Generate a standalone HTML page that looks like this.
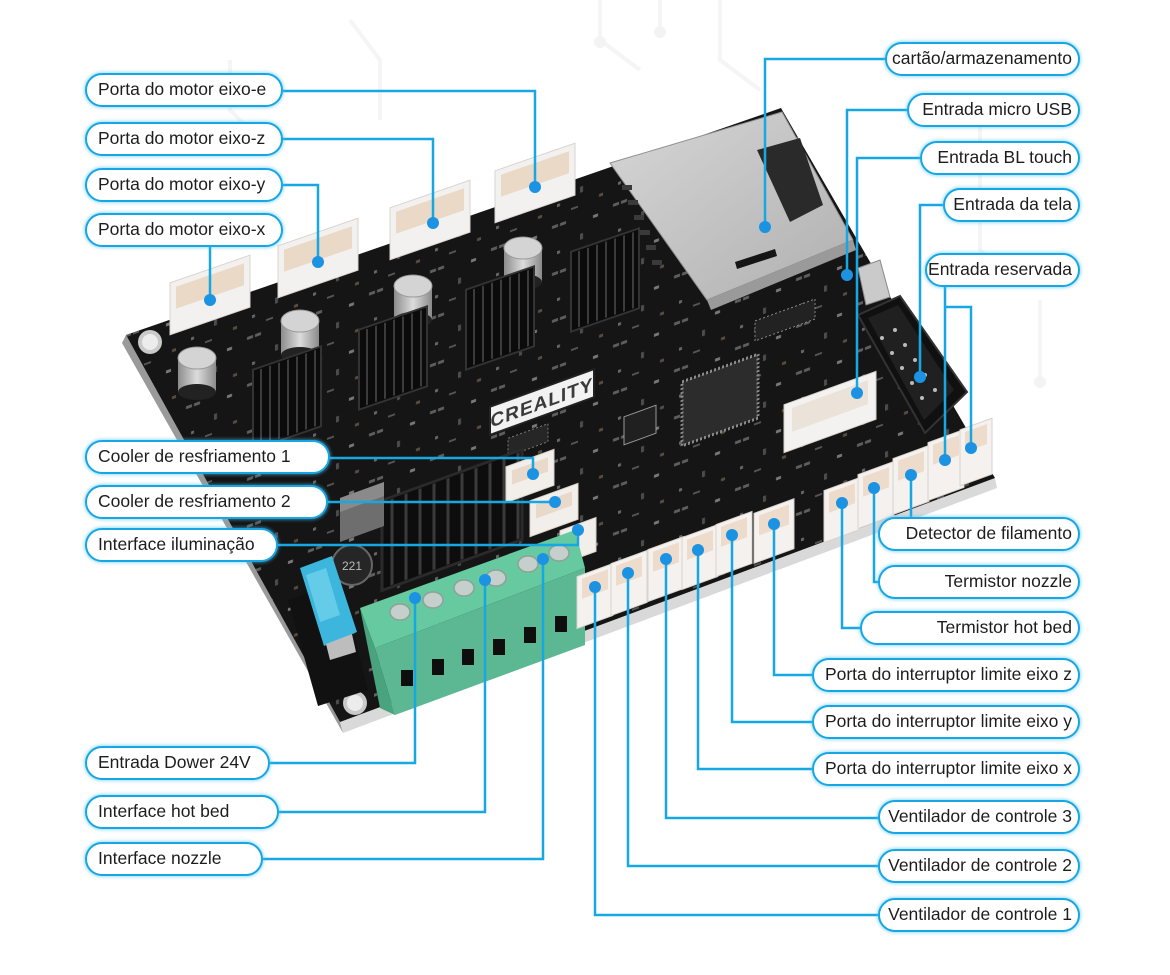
<!DOCTYPE html>
<html><head><meta charset="utf-8">
<style>
html,body{margin:0;padding:0;}
body{width:1170px;height:975px;position:relative;background:#fff;overflow:hidden;font-family:"Liberation Sans",Arial,sans-serif;}
svg{position:absolute;left:0;top:0;}
.l{position:absolute;box-sizing:border-box;height:34px;border:2.5px solid #17a6e3;border-radius:17px;background:#fff;box-shadow:0 0 3px 1px rgba(70,195,245,.55);font-size:17.5px;color:#1d1d1d;line-height:29px;white-space:nowrap;overflow:hidden;}
.lt{padding-left:11px;text-align:left;}
.rt{padding-right:6px;text-align:right;}
</style></head><body>
<svg width="1170" height="975" viewBox="0 0 1170 975">
<defs>
<pattern id="smd" width="61" height="47" patternUnits="userSpaceOnUse" patternTransform="skewY(-20)">
<rect x="3" y="4" width="6" height="3" fill="#9a9a9a"/>
<rect x="11" y="4" width="6" height="3" fill="#9a9a9a"/>
<rect x="31" y="22" width="3" height="6" fill="#7a7a7a"/>
<rect x="44" y="8" width="5" height="3" fill="#c9c9c9"/>
<rect x="8" y="31" width="3" height="3" fill="#aaa"/>
<rect x="50" y="36" width="4" height="3" fill="#8a7a66"/>
<rect x="22" y="40" width="7" height="2" fill="#888"/>
</pattern>
<linearGradient id="sd" x1="0" y1="0" x2="1" y2="1"><stop offset="0" stop-color="#d6d6d6"/><stop offset="1" stop-color="#b0b0b0"/></linearGradient>
<linearGradient id="cap" x1="0" y1="0" x2="1" y2="0"><stop offset="0" stop-color="#8c8c8c"/><stop offset=".5" stop-color="#dcdcdc"/><stop offset="1" stop-color="#8a8a8a"/></linearGradient>
</defs>
<!-- faint background circuit traces -->
<g stroke="#f5f5f5" stroke-width="4" fill="none">
<polyline points="600,0 600,40 640,70"/>
<polyline points="660,0 660,30"/>
<polyline points="720,0 720,60 760,90"/>
<polyline points="980,120 980,250 1010,280"/>
<polyline points="1040,300 1040,380"/>
<polyline points="230,60 230,110 260,140"/>
<polyline points="350,20 380,60 380,120"/>
</g>
<g fill="#f3f3f3"><circle cx="660" cy="32" r="6"/><circle cx="600" cy="42" r="6"/><circle cx="1040" cy="382" r="6"/></g>

<!-- board -->
<polygon points="122,343 126,335 340,722 343,733" fill="#9a9a9a"/>
<polygon points="340,722 995,478 997,488 343,733" fill="#d9d9d9"/>
<polygon points="126,335 781,108 995,478 340,722" fill="#151515"/>
<polygon points="126,335 781,108 995,478 340,722" fill="url(#smd)" opacity="0.55"/>
<circle cx="150" cy="342" r="12" fill="#c9c9c9"/><circle cx="150" cy="342" r="8" fill="#ececec"/>
<circle cx="355" cy="703" r="12" fill="#c9c9c9"/><circle cx="355" cy="703" r="8" fill="#ececec"/>

<!-- motor connectors -->
<g>
<g transform="translate(210,305) skewY(-19)"><rect x="-40" y="-36" width="80" height="52" fill="#f3f1ef" stroke="#d8d3ce"/><rect x="-34" y="-30" width="68" height="22" fill="#ead9c7"/></g>
<g transform="translate(318,268) skewY(-19)"><rect x="-40" y="-36" width="80" height="52" fill="#f3f1ef" stroke="#d8d3ce"/><rect x="-34" y="-30" width="68" height="22" fill="#ead9c7"/></g>
<g transform="translate(430,230) skewY(-19)"><rect x="-40" y="-36" width="80" height="52" fill="#f3f1ef" stroke="#d8d3ce"/><rect x="-34" y="-30" width="68" height="22" fill="#ead9c7"/></g>
<g transform="translate(535,193) skewY(-19)"><rect x="-40" y="-36" width="80" height="52" fill="#f3f1ef" stroke="#d8d3ce"/><rect x="-34" y="-30" width="68" height="22" fill="#ead9c7"/></g>
</g>
<!-- caps -->
<g transform="translate(197,372)"><rect x="-19" y="-14" width="38" height="34" fill="url(#cap)"/><ellipse cx="0" cy="20" rx="19" ry="8" fill="#222"/><ellipse cx="0" cy="-14" rx="19" ry="11" fill="#d4d4d4" stroke="#999"/></g>
<g transform="translate(300,335)"><rect x="-19" y="-14" width="38" height="34" fill="url(#cap)"/><ellipse cx="0" cy="20" rx="19" ry="8" fill="#222"/><ellipse cx="0" cy="-14" rx="19" ry="11" fill="#d4d4d4" stroke="#999"/></g>
<g transform="translate(413,300)"><rect x="-19" y="-14" width="38" height="34" fill="url(#cap)"/><ellipse cx="0" cy="20" rx="19" ry="8" fill="#222"/><ellipse cx="0" cy="-14" rx="19" ry="11" fill="#d4d4d4" stroke="#999"/></g>
<g transform="translate(523,262)"><rect x="-19" y="-14" width="38" height="34" fill="url(#cap)"/><ellipse cx="0" cy="20" rx="19" ry="8" fill="#222"/><ellipse cx="0" cy="-14" rx="19" ry="11" fill="#d4d4d4" stroke="#999"/></g>
<!-- small heatsinks -->
<g stroke="#3c3c3c" stroke-width="2">
<g transform="translate(287,398) skewY(-19)"><rect x="-34" y="-40" width="68" height="80" fill="#0b0b0b" stroke="#333"/><path d="M-26-38v76M-17-38v76M-8-38v76M1-38v76M10-38v76M19-38v76M28-38v76"/></g>
<g transform="translate(393,358) skewY(-19)"><rect x="-34" y="-40" width="68" height="80" fill="#0b0b0b" stroke="#333"/><path d="M-26-38v76M-17-38v76M-8-38v76M1-38v76M10-38v76M19-38v76M28-38v76"/></g>
<g transform="translate(500,318) skewY(-19)"><rect x="-34" y="-40" width="68" height="80" fill="#0b0b0b" stroke="#333"/><path d="M-26-38v76M-17-38v76M-8-38v76M1-38v76M10-38v76M19-38v76M28-38v76"/></g>
<g transform="translate(605,280) skewY(-19)"><rect x="-34" y="-40" width="68" height="80" fill="#0b0b0b" stroke="#333"/><path d="M-26-38v76M-17-38v76M-8-38v76M1-38v76M10-38v76M19-38v76M28-38v76"/></g>
</g>
<!-- logo -->
<g transform="translate(542,402) skewY(-20)"><rect x="-52" y="-14" width="104" height="28" fill="#f2f2f2" stroke="#222" stroke-width="2"/><text x="0" y="7" font-family="Liberation Sans, sans-serif" font-size="19" font-weight="bold" fill="#3a3a3a" text-anchor="middle" letter-spacing="1">CREALITY</text></g>
<!-- small chips -->
<g transform="translate(528,440) skewY(-20)"><rect x="-20" y="-9" width="40" height="18" fill="#262626" stroke="#777" stroke-dasharray="2 2"/></g>
<g transform="translate(640,425) skewY(-20)"><rect x="-16" y="-14" width="32" height="28" fill="#202020" stroke="#999"/></g>
<g transform="translate(720,400) skewY(-20)"><rect x="-38" y="-32" width="76" height="64" fill="#2c2c2c" stroke="#8a8a8a" stroke-width="3" stroke-dasharray="2 2"/></g>
<g transform="translate(785,320) skewY(-20)"><rect x="-30" y="-10" width="60" height="20" fill="#222" stroke="#888" stroke-dasharray="2 2"/></g>
<!-- big heatsink -->
<g transform="translate(452,520) skewY(-20)" stroke="#3a3a3a" stroke-width="3"><rect x="-70" y="-45" width="140" height="90" fill="#0d0d0d" stroke="#2a2a2a"/><path d="M-60-43v86M-46-43v86M-32-43v86M-18-43v86M-4-43v86M10-43v86M24-43v86M38-43v86M52-43v86M66-43v86"/></g>
<!-- inductor -->
<g transform="translate(362,512) skewY(-20)"><rect x="-22" y="-22" width="44" height="44" fill="#6e6e6e"/><rect x="-22" y="-22" width="44" height="14" fill="#8a8a8a"/></g>
<!-- small black cap -->
<circle cx="352" cy="565" r="20" fill="#262626" stroke="#666" stroke-width="2"/>
<text x="352" y="570" font-family="Liberation Sans, sans-serif" font-size="12" fill="#bbb" text-anchor="middle">221</text>
<!-- fuse -->
<polygon points="288,600 340,582 368,690 318,706" fill="#111"/>
<polygon points="300,568 332,556 357,632 324,646" fill="#3cb6dc"/>
<polygon points="306,575 326,568 340,615 320,622" fill="#64cbe8"/>
<polygon points="326,644 352,634 356,652 330,660" fill="#bdbdbd"/>
<!-- fan connectors -->
<g transform="translate(530,476) skewY(-20)"><rect x="-24" y="-18" width="48" height="36" fill="#f2eeea" stroke="#d6d0ca"/><rect x="-18" y="-12" width="36" height="14" fill="#e8d9ca"/></g>
<g transform="translate(554,510) skewY(-20)"><rect x="-24" y="-18" width="48" height="36" fill="#f2eeea" stroke="#d6d0ca"/><rect x="-18" y="-12" width="36" height="14" fill="#e8d9ca"/></g>
<g transform="translate(578,540) skewY(-20)"><rect x="-18" y="-16" width="36" height="34" fill="#f2eeea" stroke="#d6d0ca"/></g>
<!-- green terminal block -->
<polygon points="360,608 575,530 585,568 375,648" fill="#66c9a0"/>
<polygon points="375,648 585,568 585,645 395,715" fill="#5bb893"/>
<polygon points="360,608 375,648 395,715 380,708" fill="#4aa37f"/>
<g fill="#c5cfcb" stroke="#8fa19a" stroke-width="1.5">
<ellipse cx="400" cy="612" rx="10" ry="8"/><ellipse cx="433" cy="600" rx="10" ry="8"/><ellipse cx="464" cy="588" rx="10" ry="8"/><ellipse cx="496" cy="578" rx="10" ry="8"/><ellipse cx="528" cy="564" rx="10" ry="8"/><ellipse cx="559" cy="553" rx="10" ry="8"/>
</g>
<g fill="#0e0e0e">
<rect x="401" y="670" width="12" height="16"/><rect x="432" y="659" width="12" height="16"/><rect x="462" y="649" width="12" height="16"/><rect x="493" y="639" width="12" height="16"/><rect x="524" y="627" width="12" height="16"/><rect x="555" y="616" width="12" height="16"/>
</g>
<!-- front connectors -->
<g>
<g transform="translate(595,592) skewY(-20)"><rect x="-18" y="-22" width="36" height="52" fill="#f4f1ee" stroke="#d8d2cc"/><rect x="-13" y="-18" width="26" height="20" fill="#eddccb"/></g>
<g transform="translate(629,579) skewY(-20)"><rect x="-18" y="-22" width="36" height="52" fill="#f4f1ee" stroke="#d8d2cc"/><rect x="-13" y="-18" width="26" height="20" fill="#eddccb"/></g>
<g transform="translate(666,565) skewY(-20)"><rect x="-18" y="-22" width="36" height="52" fill="#f4f1ee" stroke="#d8d2cc"/><rect x="-13" y="-18" width="26" height="20" fill="#eddccb"/></g>
<g transform="translate(700,553) skewY(-20)"><rect x="-18" y="-22" width="36" height="52" fill="#f4f1ee" stroke="#d8d2cc"/><rect x="-13" y="-18" width="26" height="20" fill="#eddccb"/></g>
<g transform="translate(734,540) skewY(-20)"><rect x="-18" y="-22" width="36" height="52" fill="#f4f1ee" stroke="#d8d2cc"/><rect x="-13" y="-18" width="26" height="20" fill="#eddccb"/></g>
<g transform="translate(774,528) skewY(-20)"><rect x="-20" y="-22" width="40" height="50" fill="#f4f1ee" stroke="#d8d2cc"/><rect x="-15" y="-18" width="30" height="20" fill="#eddccb"/></g>
<g transform="translate(842,506) skewY(-20)"><rect x="-18" y="-22" width="36" height="52" fill="#f4f1ee" stroke="#d8d2cc"/><rect x="-13" y="-18" width="26" height="20" fill="#eddccb"/></g>
<g transform="translate(876,492) skewY(-20)"><rect x="-18" y="-24" width="36" height="54" fill="#f4f1ee" stroke="#d8d2cc"/><rect x="-13" y="-20" width="26" height="20" fill="#eddccb"/></g>
<g transform="translate(911,478) skewY(-20)"><rect x="-18" y="-26" width="36" height="56" fill="#f4f1ee" stroke="#d8d2cc"/><rect x="-13" y="-22" width="26" height="20" fill="#eddccb"/></g>
<g transform="translate(946,464) skewY(-20)"><rect x="-18" y="-28" width="36" height="58" fill="#f4f1ee" stroke="#d8d2cc"/><rect x="-13" y="-24" width="26" height="20" fill="#eddccb"/></g>
<g transform="translate(976,452) skewY(-20)"><rect x="-16" y="-28" width="32" height="56" fill="#f4f1ee" stroke="#d8d2cc"/><rect x="-11" y="-24" width="22" height="20" fill="#eddccb"/></g>
</g>
<!-- BL touch connector -->
<g transform="translate(830,412) skewY(-20)"><rect x="-46" y="-24" width="92" height="48" fill="#f4f2f0" stroke="#d6d0ca"/><rect x="-38" y="-18" width="76" height="24" fill="#ebe3da"/></g>
<!-- 10 pin header -->
<polygon points="858,315 900,296 967,392 925,433" fill="#101010" stroke="#333" stroke-width="2"/>
<polygon points="868,318 898,305 954,390 924,420" fill="#202020"/>
<g fill="#bbb"><circle cx="895" cy="330" r="2"/><circle cx="905" cy="345" r="2"/><circle cx="915" cy="360" r="2"/><circle cx="925" cy="375" r="2"/><circle cx="935" cy="390" r="2"/><circle cx="882" cy="338" r="2"/><circle cx="892" cy="353" r="2"/><circle cx="902" cy="368" r="2"/><circle cx="912" cy="383" r="2"/><circle cx="922" cy="398" r="2"/></g>
<!-- SD card -->
<polygon points="610,163 782,112 853,240 707,300" fill="url(#sd)" stroke="#8f8f8f"/>
<polygon points="757,150 800,138 823,205 790,222" fill="#2a2a2a"/>
<polygon points="735,262 775,249 777,256 737,269" fill="#151515"/>
<polygon points="707,300 853,240 856,250 711,310" fill="#9a9a9a"/>
<g fill="#3a3a3a"><rect x="622" y="185" width="10" height="5"/><rect x="628" y="200" width="10" height="5"/><rect x="634" y="215" width="10" height="5"/><rect x="640" y="230" width="10" height="5"/><rect x="646" y="245" width="10" height="5"/><rect x="652" y="260" width="10" height="5"/></g>
<!-- micro usb -->
<polygon points="858,268 880,260 890,297 866,305" fill="#cacaca" stroke="#888"/>

<!-- connector lines -->
<g fill="none" stroke="#17a8e4" stroke-width="2.5">
<polyline points="283,91 535,91 535,187"/>
<polyline points="283,139 433,139 433,223"/>
<polyline points="283,185 318,185 318,262"/>
<polyline points="210,247 210,300"/>
<polyline points="330,458 533,458 533,474"/>
<polyline points="328,502 555,502"/>
<polyline points="278,545 578,545 578,530"/>
<polyline points="270,763 415,763 415,598"/>
<polyline points="279,812 485,812 485,580"/>
<polyline points="263,859 543,859 543,559"/>
<polyline points="885,59 765,59 765,227"/>
<polyline points="907,110 847,110 847,275"/>
<polyline points="920,158 857,158 857,393"/>
<polyline points="943,205 920,205 920,377"/>
<polyline points="945,287 945,460"/>
<polyline points="945,307 971,307 971,448"/>
<polyline points="911,517 911,475"/>
<polyline points="874,488 874,582 878,582"/>
<polyline points="842,503 842,628 860,628"/>
<polyline points="774,524 774,675 812,675"/>
<polyline points="732,535 732,722 812,722"/>
<polyline points="698,550 698,769 812,769"/>
<polyline points="666,559 666,818 878,818"/>
<polyline points="628,573 628,866 878,866"/>
<polyline points="595,587 595,915 878,915"/>
</g>
<g fill="#1b93e2">
<circle cx="535" cy="187" r="6"/><circle cx="433" cy="223" r="6"/><circle cx="318" cy="262" r="6"/><circle cx="210" cy="300" r="6"/>
<circle cx="533" cy="474" r="6"/><circle cx="555" cy="502" r="6"/><circle cx="578" cy="530" r="6"/>
<circle cx="415" cy="598" r="6"/><circle cx="485" cy="580" r="6"/><circle cx="543" cy="559" r="6"/>
<circle cx="765" cy="227" r="6"/><circle cx="847" cy="275" r="6"/><circle cx="857" cy="393" r="6"/><circle cx="920" cy="377" r="6"/>
<circle cx="945" cy="460" r="6"/><circle cx="971" cy="448" r="6"/><circle cx="911" cy="475" r="6"/><circle cx="874" cy="488" r="6"/><circle cx="842" cy="503" r="6"/>
<circle cx="774" cy="524" r="6"/><circle cx="732" cy="535" r="6"/><circle cx="698" cy="550" r="6"/><circle cx="666" cy="559" r="6"/><circle cx="628" cy="573" r="6"/><circle cx="595" cy="587" r="6"/>
</g>
</svg>

<div class="l lt" style="left:85px;top:73px;width:198px;">Porta do motor eixo-e</div>
<div class="l lt" style="left:85px;top:122px;width:198px;">Porta do motor eixo-z</div>
<div class="l lt" style="left:85px;top:168px;width:198px;">Porta do motor eixo-y</div>
<div class="l lt" style="left:85px;top:213px;width:198px;">Porta do motor eixo-x</div>
<div class="l lt" style="left:85px;top:440px;width:245px;">Cooler de resfriamento 1</div>
<div class="l lt" style="left:85px;top:485px;width:243px;">Cooler de resfriamento 2</div>
<div class="l lt" style="left:85px;top:528px;width:193px;">Interface iluminação</div>
<div class="l lt" style="left:85px;top:746px;width:185px;">Entrada Dower 24V</div>
<div class="l lt" style="left:85px;top:795px;width:194px;">Interface hot bed</div>
<div class="l lt" style="left:85px;top:842px;width:178px;">Interface nozzle</div>

<div class="l rt" style="left:885px;top:42px;width:195px;">cartão/armazenamento</div>
<div class="l rt" style="left:907px;top:93px;width:173px;">Entrada micro USB</div>
<div class="l rt" style="left:920px;top:141px;width:160px;">Entrada BL touch</div>
<div class="l rt" style="left:943px;top:188px;width:137px;">Entrada da tela</div>
<div class="l rt" style="left:925px;top:253px;width:155px;">Entrada reservada</div>
<div class="l rt" style="left:878px;top:517px;width:202px;">Detector de filamento</div>
<div class="l rt" style="left:878px;top:565px;width:202px;">Termistor nozzle</div>
<div class="l rt" style="left:860px;top:611px;width:220px;">Termistor hot bed</div>
<div class="l rt" style="left:812px;top:658px;width:268px;">Porta do interruptor limite eixo z</div>
<div class="l rt" style="left:812px;top:705px;width:268px;">Porta do interruptor limite eixo y</div>
<div class="l rt" style="left:812px;top:752px;width:268px;">Porta do interruptor limite eixo x</div>
<div class="l rt" style="left:878px;top:800px;width:202px;">Ventilador de controle 3</div>
<div class="l rt" style="left:878px;top:849px;width:202px;">Ventilador de controle 2</div>
<div class="l rt" style="left:878px;top:898px;width:202px;">Ventilador de controle 1</div>
</body></html>
